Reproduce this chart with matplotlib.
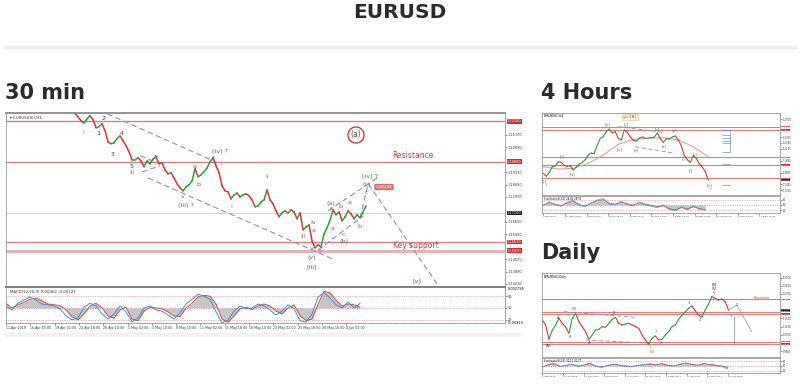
import numpy as np
import matplotlib
matplotlib.use("Agg")
import matplotlib.pyplot as plt
from matplotlib.collections import LineCollection
from matplotlib.lines import Line2D
from matplotlib.patches import Rectangle

W, H = 800, 384

# ---------------- 30 min chart ----------------
m30_close = [
    1.2252, 1.2235, 1.2213, 1.2202, 1.2224, 1.2241, 1.2219, 1.2175, 1.2181, 1.2197,
    1.2159, 1.2098, 1.2088, 1.2093, 1.2115, 1.2131, 1.2104, 1.2077, 1.2044, 1.2000,
    1.2000, 1.2011, 1.1994, 1.1962, 1.1994, 1.1978, 1.2005, 1.2016, 1.1978, 1.1983,
    1.1945, 1.1923, 1.1929, 1.1901, 1.1869, 1.1847, 1.1830, 1.1852, 1.1863, 1.1885,
    1.1951, 1.1907, 1.1918, 1.1934, 1.1956, 1.1989, 1.2011, 1.1967, 1.1929, 1.1858,
    1.1830, 1.1825, 1.1786, 1.1808, 1.1819, 1.1797, 1.1808, 1.1814, 1.1803, 1.1781,
    1.1743, 1.1748, 1.1770, 1.1781, 1.1836, 1.1781, 1.1759, 1.1721, 1.1688, 1.1710,
    1.1721, 1.1710, 1.1726, 1.1715, 1.1677, 1.1710, 1.1617, 1.1633, 1.1644, 1.1556,
    1.1518, 1.1535, 1.1524, 1.1595, 1.1628, 1.1671, 1.1726, 1.1699, 1.1715, 1.1666,
    1.1688, 1.1721, 1.1704, 1.1677, 1.1699, 1.1682, 1.1715, 1.1748,
]
m30_levels = [1.2210, 1.1989, 1.1551, 1.1503]
m30_last = 1.1710
m30_ticks = [1.13210, 1.13890, 1.14570, 1.15930, 1.16610,
             1.17970, 1.18650, 1.19330, 1.20690, 1.21370]
m30_sig = [62, 50, 58, 64, 72, 75, 68, 60, 58, 56, 45, 28, 20, 35, 55, 62, 50, 30, 24, 45,
           52, 22, 18, 42, 52, 50, 48, 40, 30, 28, 50, 62, 78, 82, 80, 60, 22, 14, 30, 48,
           52, 46, 55, 60, 55, 42, 35, 50, 58, 30, 18, 22, 60, 92, 88, 70, 55, 60, 58, 52]
m30_main = [55, 45, 62, 70, 78, 70, 60, 58, 55, 48, 30, 20, 25, 52, 62, 55, 35, 22, 35, 55,
            40, 15, 25, 50, 55, 45, 42, 32, 22, 38, 60, 72, 85, 80, 72, 40, 12, 20, 42, 55,
            48, 50, 60, 55, 45, 32, 42, 58, 48, 18, 14, 35, 78, 88, 75, 58, 50, 65, 50, 62]
m30_times = ["11 Apr 2018", "16 Apr 10:00", "19 Apr 02:00", "23 Apr 18:00", "26 Apr 10:00",
             "1 May 02:00", "3 May 18:00", "8 May 10:00", "11 May 02:00", "15 May 18:00",
             "18 May 10:00", "23 May 02:00", "25 May 18:00", "30 May 10:00", "4 Jun 02:00"]
# wave drawings as (bar, price)
m30_trends = [
    [(10.7, 1.2252), (49.0, 1.1973)],
    [(24.3, 1.1901), (86.7, 1.1452)],
    [(21.7, 1.2022), (28.3, 1.1978)],
    [(22.3, 1.1934), (28.3, 1.1967)],
    [(84.3, 1.1721), (101.3, 1.1907)],
    [(81.0, 1.1507), (96.0, 1.1693)],
    [(95.0, 1.1682), (97.7, 1.1869), (120.7, 1.1321)],
]

# ---------------- 4 hour chart ----------------
h4_close = [
    1.1650, 1.1592, 1.1669, 1.1779, 1.1792, 1.1876, 1.1863, 1.1799, 1.1786, 1.1799,
    1.1715, 1.1773, 1.1831, 1.1863, 1.1915, 1.2006, 1.2051, 1.2051, 1.2200, 1.2329,
    1.2362, 1.2459, 1.2510, 1.2433, 1.2459, 1.2329, 1.2297, 1.2491, 1.2446, 1.2355,
    1.2290, 1.2277, 1.2336, 1.2355, 1.2329, 1.2336, 1.2342, 1.2355, 1.2433, 1.2323,
    1.2252, 1.2323, 1.2316, 1.2355, 1.2375, 1.2297, 1.2187, 1.1993, 1.1915, 1.1863,
    1.1993, 1.1941, 1.1838, 1.1773, 1.1682, 1.1520,
]
h4_ma = [1.1779, 1.1734, 1.1747, 1.1844, 1.2006, 1.2213, 1.2310, 1.2329, 1.2342, 1.2297,
         1.2167, 1.1973]
h4_levels = [1.2556, 1.2491, 1.1960, 1.1812, 1.1553]
h4_ticks = [1.1320, 1.1435, 1.1665, 1.1895, 1.2125, 1.2240, 1.2355, 1.2700]
h4_fib = [1.2491, 1.2394, 1.2329, 1.2277, 1.2232, 1.2070, 1.1825, 1.1423]
h4_sig = [50, 62, 55, 48, 60, 70, 52, 45, 58, 72, 80, 60, 55, 65, 58, 50, 62, 55, 48, 40,
          45, 30, 22, 35, 28, 40, 30, 25]
h4_main = [45, 68, 50, 42, 66, 75, 48, 40, 62, 78, 85, 55, 50, 70, 52, 45, 66, 50, 42, 35,
           50, 25, 18, 40, 22, 45, 25, 20]
h4_times = ["4 Dec 2017", "19 Dec 12:00", "8 Jan 04:00", "23 Jan 20:00", "8 Feb 12:00",
            "26 Feb 04:00", "13 Mar 20:00", "29 Mar 12:00", "16 Apr 04:00", "1 May 20:00",
            "17 May 12:00"]
h4_trends = [
    [(25.0, 1.2556), (40.0, 1.2446)],
    [(30.6, 1.2167), (43.9, 1.2038)],
]

# ---------------- daily chart ----------------
d1_close = [
    1.1422, 1.1176, 1.0473, 1.0931, 1.1176, 1.1504, 1.1258, 1.1095, 1.0767, 1.1504,
    1.1749, 1.1340, 1.1095, 1.0849, 1.0473, 1.0686, 1.0931, 1.0964, 1.1095, 1.1062,
    1.1258, 1.1455, 1.1553, 1.1258, 1.1176, 1.1226, 1.1258, 1.1176, 1.1095, 1.1013,
    1.0686, 1.0440, 1.0244, 1.0522, 1.0637, 1.0440, 1.0473, 1.0686, 1.0849, 1.1095,
    1.1176, 1.1455, 1.1667, 1.1831, 1.1994, 1.2109, 1.1880, 1.1667, 1.1553, 1.1913,
    1.2207, 1.2567, 1.2485, 1.2403, 1.2453, 1.2322, 1.1913,
]
d1_levels = [1.2436, 1.1831, 1.1716, 1.0358, 1.0244]
d1_ticks = [0.9900, 1.0700, 1.1100, 1.1500, 1.2700, 1.3100, 1.3500]
d1_sig = [45, 55, 60, 48, 52, 58, 50, 55, 62, 50, 45, 52, 58, 55, 50, 48, 52, 55, 60, 58,
          62, 55, 50, 58, 65, 60, 55, 62, 60, 55, 50, 40]
d1_main = [40, 60, 65, 45, 55, 62, 45, 58, 68, 45, 40, 55, 62, 52, 45, 44, 55, 58, 65, 55,
           66, 50, 48, 62, 70, 58, 52, 66, 58, 50, 45, 30]
d1_times = ["2 Feb 2015", "12 Jun 2015", "22 Oct 2015", "1 Mar 2016", "11 Jul 2016",
            "18 Nov 2016", "30 Mar 2017", "9 Aug 2017", "19 Dec 2017", "30 Apr 2018"]
d1_trends = [
    [(6.5, 1.1831), (28.0, 1.1553)],
    [(13.0, 1.0440), (32.5, 1.0277)],
]
d1_projection = [(56.0, 1.1913), (58.5, 1.2158), (63.0, 1.0849)]

GREEN, RED = "#2f9e3a", "#d33a3a"
PINK, DARK, MAG, BROWN, LGREEN = "#c07090", "#3a3a50", "#b04a7a", "#8a6040", "#3a8a2a"
DASH = "#8c8cc8"

fig = plt.figure(figsize=(W / 100, H / 100), dpi=100)
fig.patch.set_facecolor("white")


def panel(x0, y0, x1, y1):
    ax = fig.add_axes([x0 / W, 1 - y1 / H, (x1 - x0) / W, (y1 - y0) / H])
    for s in ax.spines.values():
        s.set_color("#9a9a9a")
        s.set_linewidth(0.6)
    ax.tick_params(length=1.2, width=0.4, labelsize=2.5, pad=0.8, colors="#333333")
    ax.yaxis.tick_right()
    return ax


def label(x, y, s, color, size=4.6, **kw):
    fig.text(x / W, 1 - y / H, s, color=color, fontsize=size, ha="center", va="center", **kw)


def price_line(ax, closes, step=1.0, lw=1.0):
    x = np.arange(len(closes)) * step
    segs = [[(x[i - 1], closes[i - 1]), (x[i], closes[i])] for i in range(1, len(closes))]
    cols = [GREEN if closes[i] >= closes[i - 1] else RED for i in range(1, len(closes))]
    ax.add_collection(LineCollection(segs, colors=cols, linewidths=lw, capstyle="round"))


def level_box(ax, y, fc, size=2.5):
    ax.text(1.004, y, f"{y:.5f}", transform=ax.get_yaxis_transform(), ha="left",
            va="center", fontsize=size, color="white",
            bbox=dict(boxstyle="square,pad=0.1", fc=fc, ec="none"))


def oscillator(ax, x, sig, main, lw=0.7):
    ax.fill_between(x, sig, 50, color="#b4b4b4", alpha=0.75, lw=0)
    for lv in (80, 50, 20):
        ax.axhline(lv, color="#e07070", lw=0.5, ls=(0, (1, 1.5)))
    ax.plot(x, sig, color="#d84a4a", lw=lw)
    ax.plot(x, main, color="#3d8fe0", lw=lw)


def draw_trends(ax, lines, color=DASH, lw=0.8):
    for ln in lines:
        xs, ys = zip(*ln)
        ax.plot(xs, ys, color=color, lw=lw, ls=(0, (5, 3)))


# headings
label(400, 12, "EURUSD", "#2b2b2b", size=14.5, weight="bold")
fig.add_artist(Line2D([5 / W, 795 / W], [1 - 47 / H] * 2, color="#ebebeb", lw=2.5))
fig.text(5 / W, 1 - 93 / H, "30 min", fontsize=15, weight="bold", color="#2b2b2b",
         ha="left", va="center")
fig.text(541 / W, 1 - 93 / H, "4 Hours", fontsize=15, weight="bold", color="#2b2b2b",
         ha="left", va="center")
fig.text(541 / W, 1 - 253 / H, "Daily", fontsize=15, weight="bold", color="#2b2b2b",
         ha="left", va="center")

# ---- 30 min main panel ----
ax = panel(6, 113, 505, 286)
ax.spines["top"].set_linewidth(1.2)
ax.spines["top"].set_color("#808080")
ax.set_xlim(-23, 143.3)
ax.set_ylim(1.1310, 1.2256)
ax.set_xticks([])
ax.set_yticks(m30_ticks)
ax.set_yticklabels([f"{t:.5f}" for t in m30_ticks])
for lv in m30_levels:
    ax.axhline(lv, color="#d98080", lw=1.0)
ax.axhline(m30_levels[-1], color="#e6b0b0", lw=2.0)
ax.axhline(m30_last, color="#d8d8d8", lw=0.8)
draw_trends(ax, m30_trends)
price_line(ax, m30_close, lw=1.1)
for lv in m30_levels:
    level_box(ax, lv, "#e02828")
level_box(ax, m30_last, "#202020")
ax.text(0.008, 0.985, "\u25be EURUSD(E),H1", transform=ax.transAxes, fontsize=2.8,
        va="top", ha="left", color="#333333")

m30_labels = [
    (83, 132, "i", PINK), (98, 134, "1", DARK), (104, 118, "2", DARK), (113, 154, "3", DARK),
    (122, 133, "4", DARK), (132, 166, "5", DARK), (132, 173, "iii", PINK),
    (156, 156, "iv", MAG), (183, 197, "v", MAG), (195, 166, "a", MAG), (198, 185, "b", MAG),
    (213, 158, "c", MAG), (220, 152, "(iv) ?", BROWN), (186, 206, "(iii) ?", BROWN),
    (231, 207, "i", PINK), (267, 177, "ii", PINK), (303, 236, "iii", PINK),
    (313, 223, "iv", MAG), (314, 231, "a", MAG), (312, 248, "v", MAG), (320, 251, "c", MAG),
    (312, 258, "(v)", BROWN), (312, 267, "[iii]", LGREEN),
    (331, 203, "(a)", BROWN), (331, 209, "c", MAG), (333, 229, "a", MAG),
    (340, 207, "b", MAG), (343, 234, "c", MAG), (344, 241, "(b)", BROWN),
    (350, 203, "a", MAG), (359, 227, "b", MAG), (366, 192, "c", MAG),
    (367, 184, "(c)", BROWN), (370, 176, "[iv] ?", LGREEN), (417, 281, "[v]", LGREEN),
]
for x, y, s, c in m30_labels:
    label(x, y, s, c)
label(356, 135, "(a)", "#7a4a3a", size=5.5,
      bbox=dict(boxstyle="circle,pad=0.35", fc="none", ec="#c03030", lw=0.9))
label(413, 156, "Resistance", "#d04040", size=5.5)
label(416, 246, "Key support", "#d04040", size=5.5)
label(384, 187, "1.18293", "white", size=3,
      bbox=dict(boxstyle="round,pad=0.2", fc="#e07878", ec="#c04040", lw=0.4))

# ---- 30 min oscillator ----
axm = panel(6, 287, 505, 323)
axm.spines["top"].set_linewidth(1.4)
axm.spines["top"].set_color("#808080")
axm.set_xlim(-23, 143.3)
axm.set_ylim(12, 103)
osc_x = np.arange(len(m30_sig)) * 2 - 23
oscillator(axm, osc_x, m30_sig, m30_main)
axm.set_yticks([80, 50, 20])
axm.set_yticklabels(["80", "50", "20"])
axm.text(1.005, 0.95, "0.002795", transform=axm.transAxes, fontsize=2.5, va="center")
axm.text(1.005, 0.0, "-0.00313", transform=axm.transAxes, fontsize=2.5, va="center")
axm.text(0.008, 0.93, "MACD(12,26,9) 0.00462 -0.00127", transform=axm.transAxes,
         fontsize=2.8, va="top", color="#333333")
axm.set_xticks(np.arange(len(m30_times)) * 8.1 - 23)
axm.set_xticklabels(m30_times, ha="left", fontsize=2.3)
axm.tick_params(axis="x", pad=1.2)
fig.add_artist(Rectangle((5 / W, 1 - 336 / H), 515 / W, 3 / H, color="#f2f2f2",
                         transform=fig.transFigure))

# ---- 4 hour panel ----
a4 = panel(542, 113, 780, 195)
a4.set_xlim(-0.44, 78.9)
a4.set_ylim(1.1230, 1.2821)
a4.set_xticks([])
a4.set_yticks(h4_ticks)
a4.set_yticklabels([f"{t:.4f}" for t in h4_ticks], fontsize=1.8)
for lv in h4_levels:
    a4.axhline(lv, color="#d98080", lw=0.8)
a4.plot(np.arange(len(h4_ma)) * 5, h4_ma, color="#e0a0a0", lw=0.8)
draw_trends(a4, h4_trends, lw=0.6)
price_line(a4, h4_close, lw=0.8)
a4.vlines(62.2, h4_fib[0], h4_fib[5], color="#5070c0", lw=0.4)
for f in h4_fib:
    a4.hlines(f, 59.6, 62.2, color="#5070c0", lw=0.4)
for lv in h4_levels:
    level_box(a4, lv, "#e02828", size=1.6)
level_box(a4, h4_close[-1], "#202020", size=1.6)
a4.text(0.008, 0.985, "EURUSD(E),H4", transform=a4.transAxes, fontsize=2, va="top")
h4_labels = [
    (545, 181, "[i]", LGREEN), (546, 185, "i", "#3050b0"), (562, 156, "[ii]", LGREEN),
    (573, 174, "[iv]", LGREEN), (608, 124, "[iii]", LGREEN), (620, 149, "[iv]", LGREEN),
    (626, 124, "[v]", LGREEN), (636, 150, "[a]", LGREEN), (657, 129, "[b]", LGREEN),
    (664, 147, "(x)", BROWN), (674, 131, "(y)", "#c03030"), (684, 160, "(i)", BROWN),
    (695, 154, "[ii]", LGREEN), (691, 170, "[i]", LGREEN), (710, 185, "[iii]", LGREEN),
    (710, 189, "i", "#3050b0"),
]
for x, y, s, c in h4_labels:
    label(x, y, s, c, size=2.6)
label(630, 117, "y(c)[B]", "#c03030", size=3,
      bbox=dict(boxstyle="square,pad=0.2", fc="white", ec="#e0c060", lw=0.4))

a4o = panel(542, 196, 780, 213)
a4o.set_xlim(-0.44, 78.9)
a4o.set_ylim(5, 100)
oscillator(a4o, np.arange(len(h4_sig)) * 2, h4_sig, h4_main, lw=0.5)
a4o.set_yticks([80, 50, 20])
a4o.set_yticklabels(["80", "50", "20"], fontsize=1.8)
a4o.set_xticks(np.arange(len(h4_times)) * 7.2)
a4o.set_xticklabels(h4_times, ha="left", fontsize=1.7)
a4o.text(0.008, 0.95, "Stochastic(8,3,3) 24.83 28.91", transform=a4o.transAxes,
         fontsize=1.8, va="top")

# ---- daily panel ----
ad = panel(542, 273, 780, 357)
ad.set_xlim(-0.1, 71.5)
ad.set_ylim(0.9606, 1.3729)
ad.set_xticks([])
ad.set_yticks(d1_ticks)
ad.set_yticklabels([f"{t:.4f}" for t in d1_ticks], fontsize=1.8)
for lv in d1_levels:
    ad.axhline(lv, color="#d98080", lw=0.8)
draw_trends(ad, d1_trends, lw=0.6)
px, py = zip(*d1_projection)
ad.plot(px, py, color="#a0a0a0", lw=0.6)
ad.vlines(57.7, 1.0195, 1.1618, color="#5070c0", lw=0.4)
price_line(ad, d1_close, lw=0.8)
for lv in d1_levels:
    level_box(ad, lv, "#e02828", size=1.6)
level_box(ad, d1_close[-1], "#202020", size=1.6)
ad.text(0.008, 0.975, "EURUSD(E),Daily", transform=ad.transAxes, fontsize=2, va="top")
d1_labels = [
    (548, 346, "(A)", "#202020"), (558, 318, "A", "#3050b0"), (570, 337, "B", "#3050b0"),
    (574, 309, "(B)", "#c03030"), (589, 343, "A", "#3050b0"), (614, 313, "B", "#3050b0"),
    (651, 347, "C", "#3050b0"), (652, 352, "(C)", "#c03030"), (656, 331, "1", "#3050b0"),
    (661, 343, "2", "#3050b0"), (689, 303, "3", "#3050b0"), (700, 320, "4", "#3050b0"),
    (714, 293, "5", "#3050b0"), (714, 289, "(A)", "#c03030"), (714, 284, "[B]", "#202020"),
    (731, 316, "1", "#3050b0"), (737, 305, "2", "#3050b0"),
]
for x, y, s, c in d1_labels:
    label(x, y, s, c, size=2.6)
label(762, 298, "Resistance", "#d04040", size=2.2)

ado = panel(542, 358, 780, 373)
ado.set_xlim(-0.1, 71.5)
ado.set_ylim(5, 100)
oscillator(ado, np.arange(len(d1_sig)) * 1.8, d1_sig, d1_main, lw=0.5)
ado.set_yticks([80, 50, 20])
ado.set_yticklabels(["80", "50", "20"], fontsize=1.8)
ado.set_xticks(np.arange(len(d1_times)) * 6.2)
ado.set_xticklabels(d1_times, ha="left", fontsize=1.7)
ado.text(0.008, 0.95, "Stochastic(8,3,3) 30.12 41.77", transform=ado.transAxes,
         fontsize=1.8, va="top")

fig.savefig("out.png", dpi=100)
